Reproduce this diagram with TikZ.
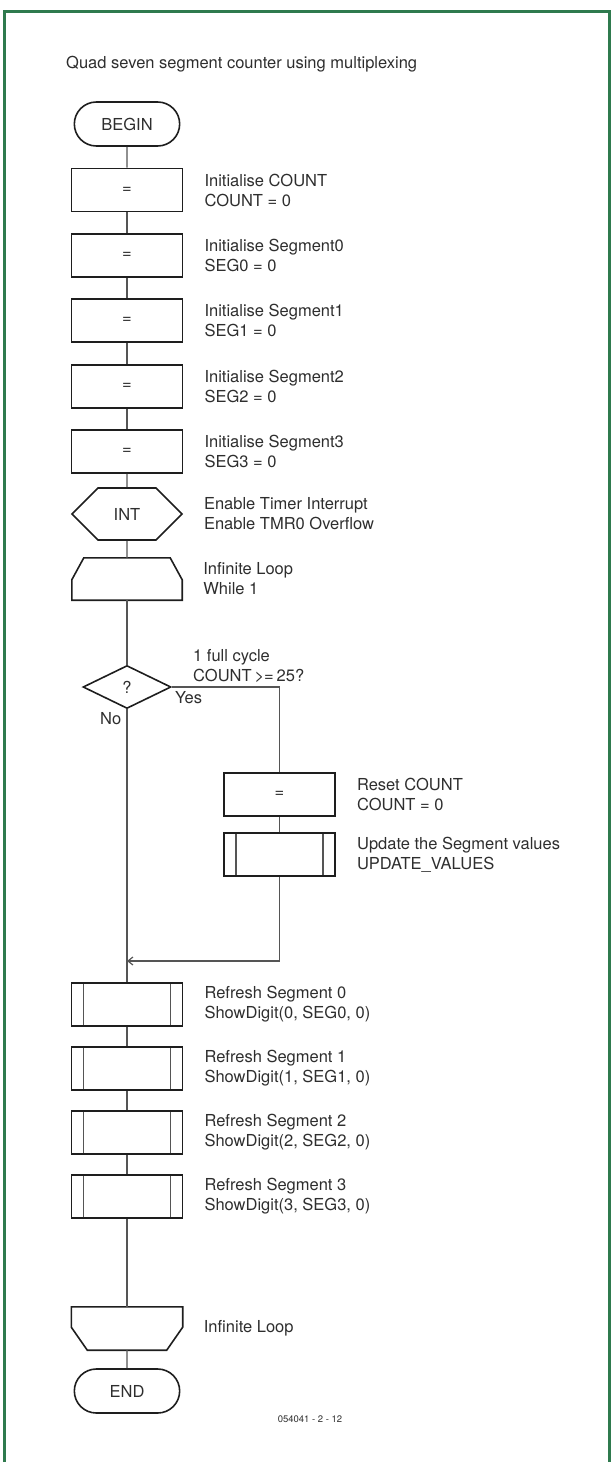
\documentclass[tikz,border=0pt]{standalone}
\usepackage{fontspec}
\setmainfont{TeX Gyre Heros}
\usetikzlibrary{arrows.meta,positioning,shapes.geometric,shapes.misc}
\definecolor{chartink}{HTML}{1E1E1E}
\definecolor{chartline}{HTML}{555555}
\definecolor{charttext}{HTML}{2E2E2E}
\definecolor{chartframe}{HTML}{2F7A4E}

\begin{document}
\begin{tikzpicture}[x=1pt, y=-1pt,
  every node/.style={font=\fontsize{16.5}{20}\selectfont, text=charttext},
  terminal/.style={draw=chartink, line width=1.6pt, rounded rectangle,
                   minimum width=112pt, minimum height=44pt},
  box/.style={draw=chartink, line width=1.6pt, rectangle,
              minimum width=111pt, minimum height=43pt},
  subproc/.style={box, path picture={
      \draw[chartline, line width=1.2pt]
        ([xshift=12pt]path picture bounding box.north west) --
        ([xshift=12pt]path picture bounding box.south west);
      \draw[chartline, line width=1.2pt]
        ([xshift=-12pt]path picture bounding box.north east) --
        ([xshift=-12pt]path picture bounding box.south east);}},
  interrupt/.style={draw=chartink, line width=1.6pt, chamfered rectangle,
                    chamfered rectangle xsep=12pt, chamfered rectangle ysep=21pt,
                    minimum width=110pt, minimum height=42pt},
  loopstart/.style={rectangle, minimum width=110pt, minimum height=42pt,
    append after command={\pgfextra{\let\loopnode=\tikzlastnode
      \draw[draw=chartink, line width=1.6pt]
        ([xshift=12pt]\loopnode.north west) --
        ([xshift=-12pt]\loopnode.north east) --
        ([yshift=-22pt]\loopnode.north east) --
        (\loopnode.south east) -- (\loopnode.south west) --
        ([yshift=-22pt]\loopnode.north west) -- cycle;}}},
  loopend/.style={rectangle, minimum width=111pt, minimum height=43pt,
    append after command={\pgfextra{\let\loopnode=\tikzlastnode
      \draw[draw=chartink, line width=1.6pt]
        (\loopnode.north west) -- (\loopnode.north east) --
        ([yshift=23pt]\loopnode.south east) --
        ([xshift=-16pt]\loopnode.south east) --
        ([xshift=16pt]\loopnode.south west) --
        ([yshift=23pt]\loopnode.south west) -- cycle;}}},
  decision/.style={draw=chartink, line width=1.6pt, diamond, aspect=2,
                   inner sep=0pt, minimum width=88pt, minimum height=43pt},
  note/.style={anchor=west, align=left, inner sep=0pt},
  link/.style={draw=chartline, line width=1.2pt},
  arrow/.style={link, -{Straight Barb[length=5pt, width=8pt]}}
]
\useasboundingbox (0,0) rectangle (612,1464);
\draw[chartframe, line width=3pt] (4,1462) -- (4,12) -- (609,12) -- (609,1462);

\node[note] (title) at (66,64) {Quad seven segment counter using multiplexing};

% initialisation
\node[terminal] (begin) at (127,124) {BEGIN};
\node[box] (initcount) at (127,190) {=};
\node[note, right=21pt of initcount] (initcountnote) {Initialise COUNT\\COUNT = 0};
\node[box] (initseg0) at (127,255.5) {=};
\node[note, right=21pt of initseg0] (initseg0note) {Initialise Segment0\\SEG0 = 0};
\node[box] (initseg1) at (127,320.5) {=};
\node[note, right=21pt of initseg1] (initseg1note) {Initialise Segment1\\SEG1 = 0};
\node[box] (initseg2) at (127,386.5) {=};
\node[note, right=21pt of initseg2] (initseg2note) {Initialise Segment2\\SEG2 = 0};
\node[box] (initseg3) at (127,451.5) {=};
\node[note, right=21pt of initseg3] (initseg3note) {Initialise Segment3\\SEG3 = 0};
\node[interrupt] (int) at (127,514) {INT};
\node[note, right=21pt of int] (intnote) {Enable Timer Interrupt\\Enable TMR0 Overflow};
\node[loopstart] (loop) at (127,579) {};
\node[note, right=21pt of loop] (loopnote) {Infinite Loop\\While 1};

% count check
\node[decision] (cond) at (127,687) {?};
\node[note] (condnote) at (193,666) {1 full cycle\\COUNT$\,$>=$\,$25?};
\node[note] (yes) at (175,698) {Yes};
\node[note] (no) at (100,719) {No};
\node[box] (reset) at (279.5,794.5) {=};
\node[note, right=21pt of reset] (resetnote) {Reset COUNT\\COUNT = 0};
\node[subproc] (update) at (279.5,854.5) {};
\node[note, right=21pt of update] (updatenote) {Update the Segment values\\UPDATE\_VALUES};
\coordinate (merge) at (127,961);

% display refresh
\node[subproc] (ref0) at (127,1004.5) {};
\node[note, right=21pt of ref0] (ref0note) {Refresh Segment 0\\ShowDigit(0, SEG0, 0)};
\node[subproc] (ref1) at (127,1068.5) {};
\node[note, right=21pt of ref1] (ref1note) {Refresh Segment 1\\ShowDigit(1, SEG1, 0)};
\node[subproc] (ref2) at (127,1132.5) {};
\node[note, right=21pt of ref2] (ref2note) {Refresh Segment 2\\ShowDigit(2, SEG2, 0)};
\node[subproc] (ref3) at (127,1196.5) {};
\node[note, right=21pt of ref3] (ref3note) {Refresh Segment 3\\ShowDigit(3, SEG3, 0)};
\node[loopend] (endloop) at (127,1328.5) {};
\node[note, right=21pt of endloop] (endloopnote) {Infinite Loop};
\node[terminal] (end) at (127,1391) {END};
\node[font=\fontsize{9.5}{11}\selectfont] (figno) at (310,1419) {054041 - 2 - 12};

\draw[link] (begin) -- (initcount);
\draw[link] (initcount) -- (initseg0);
\draw[link] (initseg0) -- (initseg1);
\draw[link] (initseg1) -- (initseg2);
\draw[link] (initseg2) -- (initseg3);
\draw[link] (initseg3) -- (int);
\draw[link] (int) -- (loop);
\draw[link] (loop) -- (cond);
\draw[link] (cond.east) -| (reset.north);
\draw[link] (reset) -- (update);
\draw[arrow] (update.south) |- (merge);
\draw[link] (cond.south) -- (ref0.north);
\draw[link] (ref0) -- (ref1);
\draw[link] (ref1) -- (ref2);
\draw[link] (ref2) -- (ref3);
\draw[link] (ref3) -- (endloop);
\draw[link] (endloop) -- (end);
\end{tikzpicture}
\end{document}
